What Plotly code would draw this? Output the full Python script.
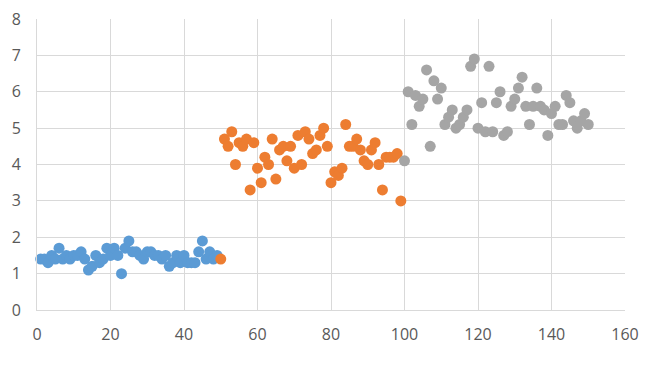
import plotly.graph_objects as go

blue_x = list(range(1, 50))
blue_y = [1.4,1.4,1.3,1.5,1.4,1.7,1.4,1.5,1.4,1.5,
          1.5,1.6,1.4,1.1,1.2,1.5,1.3,1.4,1.7,1.5,
          1.7,1.5,1.0,1.7,1.9,1.6,1.6,1.5,1.4,1.6,
          1.6,1.5,1.5,1.4,1.5,1.2,1.3,1.5,1.3,1.5,
          1.3,1.3,1.3,1.6,1.9,1.4,1.6,1.4,1.5]

orange_x = list(range(50, 100))
orange_y = [1.4,
            4.7,4.5,4.9,4.0,4.6,4.5,4.7,3.3,4.6,3.9,
            3.5,4.2,4.0,4.7,3.6,4.4,4.5,4.1,4.5,3.9,
            4.8,4.0,4.9,4.7,4.3,4.4,4.8,5.0,4.5,3.5,
            3.8,3.7,3.9,5.1,4.5,4.5,4.7,4.4,4.1,4.0,
            4.4,4.6,4.0,3.3,4.2,4.2,4.2,4.3,3.0]

grey_x = list(range(100, 151))
grey_y = [4.1,
          6.0,5.1,5.9,5.6,5.8,6.6,4.5,6.3,5.8,6.1,
          5.1,5.3,5.5,5.0,5.1,5.3,5.5,6.7,6.9,5.0,
          5.7,4.9,6.7,4.9,5.7,6.0,4.8,4.9,5.6,5.8,
          6.1,6.4,5.6,5.1,5.6,6.1,5.6,5.5,4.8,5.4,
          5.6,5.1,5.1,5.9,5.7,5.2,5.0,5.2,5.4,5.1]

x_ticks = [0, 20, 40, 60, 80, 100, 120, 140, 160]
y_ticks = [0, 1, 2, 3, 4, 5, 6, 7, 8]

fig = go.Figure()
for xs, ys, col in [(blue_x, blue_y, "#5B9BD5"),
                    (orange_x, orange_y, "#ED7D31"),
                    (grey_x, grey_y, "#A5A5A5")]:
    fig.add_trace(go.Scatter(x=xs, y=ys, mode="markers",
                             marker=dict(color=col, size=11, line=dict(width=0)),
                             showlegend=False, cliponaxis=False))

axis_font = dict(family="Open Sans, Liberation Sans, sans-serif", size=16, color="#595959")
fig.update_layout(
    width=648, height=361,
    margin=dict(l=29, r=31, t=11, b=59, autoexpand=False),
    paper_bgcolor="white", plot_bgcolor="white",
    xaxis=dict(range=[0, 160], tickvals=x_ticks, ticktext=[str(v) for v in x_ticks],
               showgrid=True, gridcolor="#D9D9D9", gridwidth=1, automargin=False,
               zeroline=False, showline=True, linecolor="#D9D9D9", linewidth=1,
               mirror=False, tickfont=axis_font, ticks="", ticklabelstandoff=10,
               ticklabeloverflow="allow"),
    yaxis=dict(range=[0, 8], tickvals=y_ticks, ticktext=[str(v) for v in y_ticks],
               showgrid=True, gridcolor="#D9D9D9", gridwidth=1, automargin=False,
               zeroline=False, showline=True, linecolor="#D9D9D9", linewidth=1,
               tickfont=axis_font, ticks="", ticklabelstandoff=12,
               ticklabeloverflow="allow"),
)
fig.write_html("out.html")
